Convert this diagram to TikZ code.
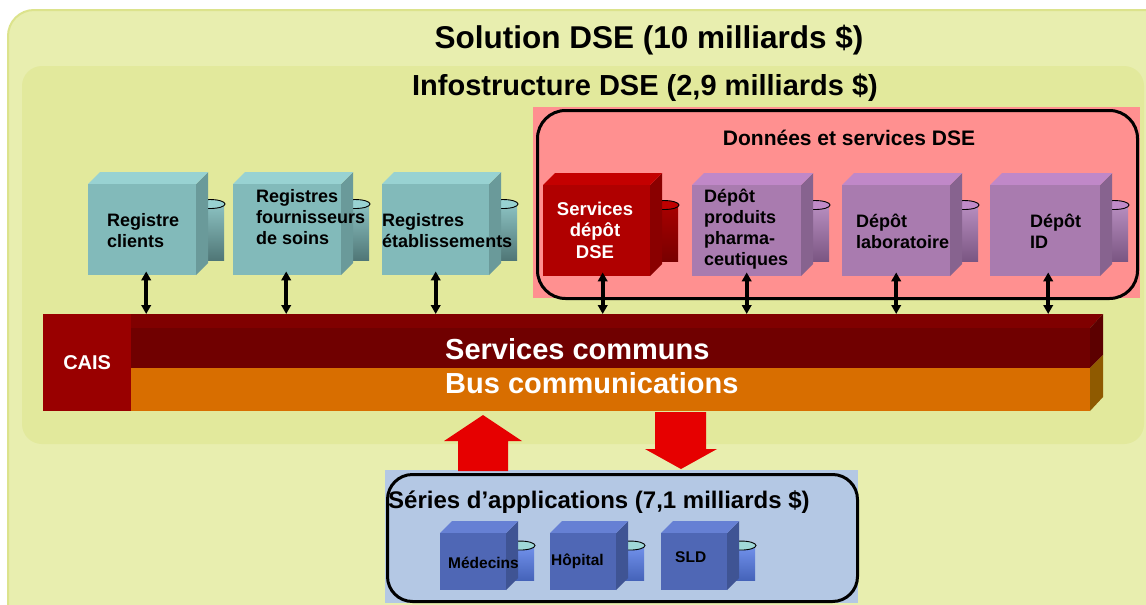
\documentclass[tikz,border=0pt]{standalone}
\usepackage{fontspec}
\setmainfont{Liberation Sans}
\usetikzlibrary{arrows.meta}
\definecolor{outerFill}{HTML}{E8EEAF}
\definecolor{outerLine}{HTML}{DCE38C}
\definecolor{innerFill}{HTML}{E2E99C}
\definecolor{pinkFill}{HTML}{FF9090}
\definecolor{appsFill}{HTML}{B4C8E4}
% teal
\definecolor{tealFront}{HTML}{82BABA}
\definecolor{tealTop}{HTML}{98D2D2}
\definecolor{tealSide}{HTML}{6A9A9A}
\definecolor{tealCylA}{HTML}{8CC2C2}
\definecolor{tealCylB}{HTML}{4F7676}
\definecolor{tealEll}{HTML}{98D2D2}
% purple
\definecolor{purpFront}{HTML}{A97BAF}
\definecolor{purpTop}{HTML}{C088C8}
\definecolor{purpSide}{HTML}{87638F}
\definecolor{purpCylA}{HTML}{B88EC0}
\definecolor{purpCylB}{HTML}{7A5682}
\definecolor{purpEll}{HTML}{C08AC8}
% red
\definecolor{redFront}{HTML}{B00000}
\definecolor{redTop}{HTML}{C40000}
\definecolor{redSide}{HTML}{8A0000}
\definecolor{redCylA}{HTML}{A80000}
\definecolor{redCylB}{HTML}{780000}
\definecolor{redEll}{HTML}{C00000}
% blue
\definecolor{blueFront}{HTML}{4F67B5}
\definecolor{blueTop}{HTML}{6680D4}
\definecolor{blueSide}{HTML}{3F5494}
\definecolor{blueCylA}{HTML}{7292EC}
\definecolor{blueCylB}{HTML}{4462B8}
\definecolor{blueEll}{HTML}{A0D8D8}
% bus
\definecolor{caisRed}{HTML}{990000}
\definecolor{busTop}{HTML}{800000}
\definecolor{busFront}{HTML}{700000}
\definecolor{busSide}{HTML}{5C0000}
\definecolor{busOrange}{HTML}{D86E00}
\definecolor{busOrSide}{HTML}{8F5A00}
\definecolor{bigRed}{HTML}{E60000}

\tikzset{
  lbl/.style={font=\fontsize{18}{21}\selectfont\bfseries, align=left, inner sep=0pt, text=black},
  smlbl/.style={font=\fontsize{15.5}{18}\selectfont\bfseries, align=left, inner sep=0pt, text=black},
  wlbl/.style={font=\fontsize{18.5}{21.5}\selectfont\bfseries, align=center, inner sep=0pt, text=white},
  buslbl/.style={font=\fontsize{29}{32}\selectfont\bfseries, inner sep=0pt, text=white},
  dbl/.style={line width=3.8pt, {Triangle[width=9.5pt,length=9pt]}-{Triangle[width=9.5pt,length=9pt]}},
  bigarrow/.style={fill=bigRed},
  frame/.style={draw=black, line width=3pt, inner sep=0pt, anchor=north west},
}

% #1 name, #2 x, #3 y (front top-left), #4 w, #5 h, #6 colour scheme
\newcommand\dbcube[6]{%
  \shade[top color=#6CylA, bottom color=#6CylB] (#2+#4-6,#3+0.22*#5) rectangle (#2+#4+28,#3+0.84*#5);
  \filldraw[fill=#6Ell, draw=black, line width=0.9pt] (#2+#4+14,#3+0.22*#5) ellipse [x radius=15pt, y radius=4.5pt];
  \fill[#6Side] (#2+#4,#3) -- ++(12,-12) -- ++(0,#5) -- ++(-12,12) -- cycle;
  \fill[#6Top] (#2,#3) -- ++(12,-12) -- ++(#4,0) -- ++(-12,12) -- cycle;
  \node[fill=#6Front, minimum width=#4, minimum height=#5, inner sep=0pt, anchor=north west] (#1) at (#2,#3) {};
}

\begin{document}
\begin{tikzpicture}[x=1pt,y=-1pt]
\useasboundingbox (0,0) rectangle (1146,605);
\fill[white] (0,0) rectangle (1146,605);

% frames
\filldraw[fill=outerFill, draw=outerLine, line width=2pt, rounded corners=26pt] (8,10) rectangle (1175,640);
\fill[innerFill, rounded corners=20pt] (22,66) rectangle (1144,444);

\node[font=\fontsize{31.5}{34}\selectfont\bfseries, inner sep=0pt] (sol) at (649,40) {Solution DSE (10 milliards \$)};
\node[font=\fontsize{29}{32}\selectfont\bfseries, inner sep=0pt] (info) at (645,88) {Infostructure DSE (2,9 milliards \$)};

% DSE data and services
\fill[pinkFill] (533,107) rectangle (1140,298);
\node[frame, rounded corners=28pt, minimum width=600, minimum height=188] (dse) at (536,109) {};
\node[font=\fontsize{21}{24}\selectfont\bfseries, inner sep=0pt] (dsetitle) at (849,138) {Données et services DSE};

% cubes
\dbcube{rc}{88}{184}{108}{91}{teal}
\dbcube{rf}{233}{184}{108}{91}{teal}
\dbcube{re}{382}{184}{107}{91}{teal}
\dbcube{sd}{543}{185}{107}{91}{red}
\dbcube{dp}{692}{185}{109}{91}{purp}
\dbcube{dl}{842}{185}{108}{91}{purp}
\dbcube{di}{990}{185}{110}{91}{purp}

\node[lbl, anchor=west] (trc) at (107,231) {Registre\\clients};
\node[lbl, anchor=west] (trf) at (256,217) {Registres\\fournisseurs\\de soins};
\node[lbl, anchor=west] (tre) at (382,231) {Registres\\établissements};
\node[wlbl] (tsd) at (595,230) {Services\\dépôt\\DSE};
\node[lbl, anchor=west] (tdp) at (704,229) {Dépôt\\produits\\pharma-\\ceutiques};
\node[lbl, anchor=west] (tdl) at (856,231) {Dépôt\\laboratoire};
\node[lbl, anchor=west] (tdi) at (1030,231) {Dépôt\\ID};

% bus
\fill[busTop] (131,314) -- (1103,314) -- (1090,328) -- (131,328) -- cycle;
\coordinate (bustop) at (131,314);
\node[fill=busFront, minimum width=959, minimum height=40, inner sep=0pt, anchor=north west] (sc) at (131,328) {};
\node[fill=busOrange, minimum width=959, minimum height=43, inner sep=0pt, anchor=north west] (bc) at (131,368) {};
\fill[busSide] (1090,328) -- (1103,314) -- (1103,355) -- (1090,368) -- cycle;
\fill[busOrSide] (1090,368) -- (1103,355) -- (1103,397) -- (1090,411) -- cycle;
\node[fill=caisRed, minimum width=88, minimum height=97, inner sep=0pt, anchor=north west] (cais) at (43,314) {};
\node[font=\fontsize{20}{22}\selectfont\bfseries, text=white, inner sep=0pt] (tcais) at (cais.center) {CAIS};
\node[buslbl, anchor=west] (tsc) at (445,349) {Services communs};
\node[buslbl, anchor=west] (tbc) at (445,383) {Bus communications};

% connectors
\foreach \c/\s in {rc/4,rf/-1,re/0,sd/6,dp/0,dl/0,di/3}{
  \draw[dbl] ([xshift=\s pt, yshift=4pt]\c.south) -- ([xshift=\s pt]\c.south |- bustop);
}

% applications
\fill[appsFill] (385,470) rectangle (858,603);
\node[frame, rounded corners=25pt, minimum width=470, minimum height=127] (apps) at (386,473) {};
\node[font=\fontsize{24}{27}\selectfont\bfseries, inner sep=0pt, anchor=west] (tapps) at (388,502) {Séries d’applications (7,1 milliards \$)};

\dbcube{me}{440}{533}{66}{57}{blue}
\dbcube{ho}{550}{533}{66}{57}{blue}
\dbcube{sl}{661}{533}{66}{57}{blue}
\node[smlbl, anchor=west] (tme) at (448,563) {Médecins};
\node[smlbl, anchor=west] (tho) at (551,561) {Hôpital};
\node[smlbl, anchor=west] (tsl) at (675,557) {SLD};

% big red arrows
\coordinate (upbase) at (483,471);
\coordinate (dntop) at (681,412);
\fill[bigarrow] (upbase) ++(-25,0) -- ++(0,-30) -- ++(-14,0) -- (483,415) -- (522,441) -- (508,441) -- (508,471) -- cycle;
\fill[bigarrow] (dntop) ++(-26,0) -- ++(0,37) -- ++(-10,0) -- (681,469) -- (717,449) -- (706,449) -- (706,412) -- cycle;
\end{tikzpicture}
\end{document}
